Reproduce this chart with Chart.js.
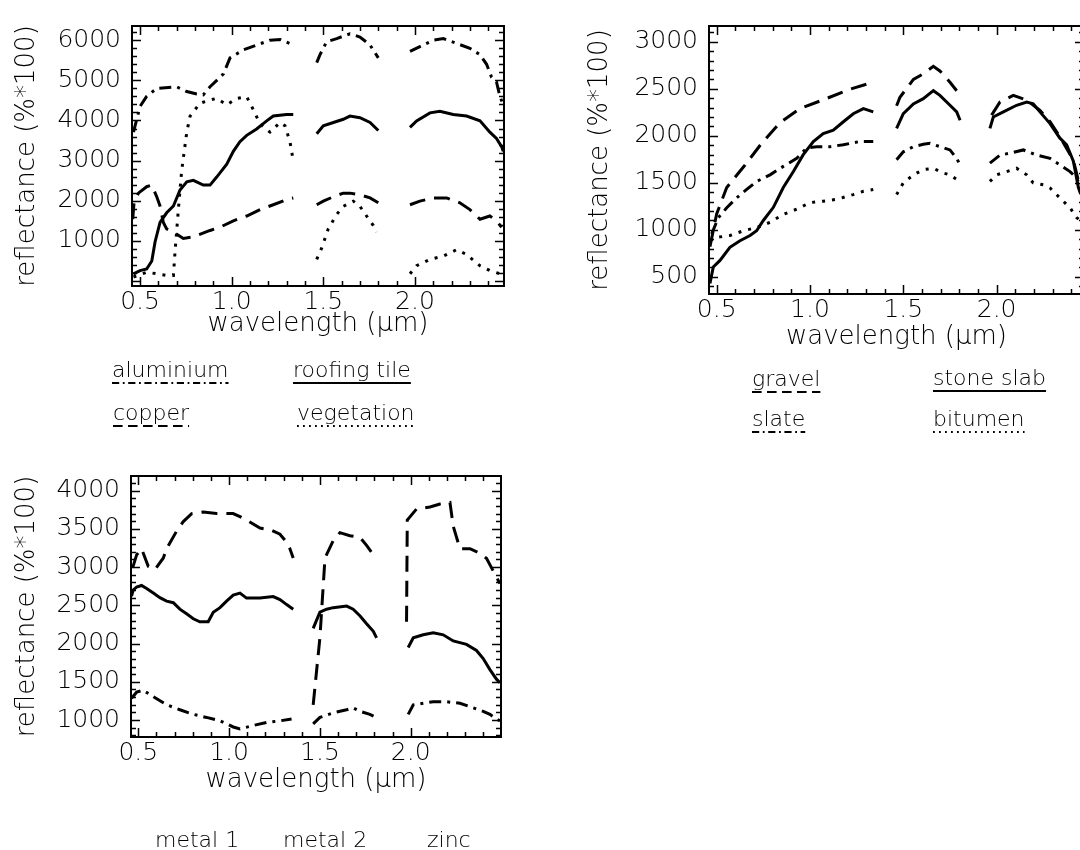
<!DOCTYPE html>
<html>
<head>
<meta charset="utf-8">
<script src="https://cdn.jsdelivr.net/npm/chart.js@4.4.1/dist/chart.umd.min.js"></script>
<style>
  html, body { margin: 0; padding: 0; background: #fff; overflow: hidden; }
  body { width: 1080px; height: 850px; position: relative; }
  .panel { position: absolute; }
</style>
</head>
<body>
<div class="panel" style="left:0;top:0;width:530px;height:450px"><canvas id="urban1"></canvas></div>
<div class="panel" style="left:575px;top:0;width:520px;height:450px"><canvas id="urban2"></canvas></div>
<div class="panel" style="left:0;top:450px;width:530px;height:400px"><canvas id="urban3"></canvas></div>
<script>
// ---- panel 1: aluminium, roofing tile, copper, vegetation ----
const alumWl = [0.464,0.5,0.536,0.591,0.70,0.755,0.809,0.845,0.882,0.955,0.991,1.064,1.136,1.209,1.264,1.336, 1.40,
  1.464,1.482,1.518,1.573,1.645,1.70,1.755,1.80, 1.88,
  1.973,2.027,2.10,2.155,2.227,2.30,2.355,2.391,2.418,2.445,2.464,2.478];
const alumRef = [3710,4350,4600,4800,4840,4720,4660,4640,4840,5160,5560,5760,5880,6000,6020,5880, null,
  5440,5640,5960,6040,6160,6080,5880,5560, null,
  5720,5840,6000,6040,5920,5800,5640,5400,5080,4960,4600,4430];

const roofWl = [0.464,0.5,0.536,0.564,0.582,0.609,0.645,0.682,0.718,0.755,0.791,0.845,0.882,0.918,0.973,1.009,1.045,1.082,1.136,1.191,1.227,1.30,1.336, 1.40,
  1.464,1.50,1.555,1.609,1.645,1.70,1.755,1.80, 1.88,
  1.973,2.009,2.082,2.136,2.209,2.282,2.355,2.409,2.445,2.473,2.482];
const roofRef = [180,260,300,500,980,1460,1700,1870,2270,2470,2510,2390,2390,2590,2910,3230,3470,3630,3790,3990,4110,4150,4150, null,
  3670,3870,3950,4030,4110,4070,3950,3750, null,
  3830,3990,4190,4230,4150,4110,3990,3710,3550,3350,3230];

const copperWl = [0.46,0.467,0.491,0.536,0.564,0.591,0.609,0.627,0.645,0.682,0.736,0.791,0.882,0.936,1.009,1.082,1.155,1.227,1.30,1.336, 1.40,
  1.464,1.50,1.555,1.609,1.645,1.70,1.755,1.80, 1.88,
  1.973,2.027,2.10,2.173,2.245,2.30,2.355,2.409,2.445,2.473];
const copperRef = [1540,1950,2190,2350,2390,2100,1870,1460,1300,1220,1060,1100,1260,1340,1500,1620,1780,1900,2030,2070, null,
  1900,1990,2100,2190,2190,2150,2070,1950, null,
  1900,1990,2070,2070,1950,1780,1540,1620,1500,1340];

const vegWl = [0.464,0.536,0.591,0.645,0.682,0.691,0.709,0.727,0.755,0.773,0.827,0.882,0.918,0.973,1.027,1.082,1.118,1.155,1.209,1.264,1.291,1.318,1.336, 1.40,
  1.464,1.491,1.527,1.573,1.609,1.664,1.70,1.736,1.773,1.791, 1.88,
  1.973,2.009,2.082,2.155,2.227,2.282,2.355,2.409,2.464];
const vegRef = [100,220,180,140,140,740,1780,2750,3710,4110,4430,4510,4550,4390,4550,4590,4270,3910,3710,3950,3870,3470,2990, null,
  540,820,1300,1660,1860,1990,1860,1620,1380,1220, null,
  180,380,540,620,780,660,380,260,180];

// ---- panel 2: gravel, stone slab, slate, bitumen ----
const gravelWl = [0.464,0.5,0.554,0.652,0.741,0.839,0.946,1.08,1.205,1.304,1.339, 1.40,
  1.464,1.482,1.554,1.607,1.661,1.696,1.75,1.786, 1.88,
  1.973,2.018,2.089,2.161,2.232,2.286,2.339,2.411,2.446];
const gravelRef = [820,1170,1450,1690,1920,2140,2290,2390,2490,2550,2520, null,
  2320,2410,2600,2660,2740,2690,2570,2480, null,
  2220,2360,2430,2380,2270,2150,1990,1740,1460];

const slabWl = [0.464,0.482,0.518,0.571,0.625,0.679,0.714,0.75,0.804,0.857,0.911,0.964,1.018,1.071,1.125,1.179,1.232,1.286,1.339, 1.40,
  1.464,1.50,1.554,1.607,1.661,1.696,1.75,1.786,1.804, 1.88,
  1.964,1.982,2.036,2.107,2.161,2.196,2.232,2.286,2.339,2.375,2.411,2.438,2.45];
const slabRef = [430,605,675,815,885,940,990,1100,1240,1450,1620,1800,1940,2025,2060,2150,2235,2290,2255, null,
  2080,2235,2340,2395,2480,2430,2325,2255,2165, null,
  2080,2200,2255,2325,2360,2340,2255,2130,1975,1905,1730,1450,1380];

const slateWl = [0.473,0.509,0.554,0.607,0.661,0.714,0.786,0.857,0.929,0.982,1.036,1.107,1.179,1.268,1.339, 1.40,
  1.464,1.50,1.554,1.607,1.643,1.696,1.75,1.786,1.804, 1.88,
  1.964,2.018,2.071,2.143,2.214,2.286,2.339,2.393,2.429,2.45];
const slateRef = [955,1130,1235,1340,1430,1515,1585,1675,1760,1870,1885,1885,1905,1940,1940, null,
  1745,1830,1885,1910,1920,1885,1850,1760,1690, null,
  1710,1795,1815,1850,1795,1760,1690,1620,1550,1450];

const bitumenWl = [0.464,0.5,0.571,0.643,0.714,0.786,0.857,0.929,1.0,1.071,1.143,1.232,1.286,1.339, 1.40,
  1.464,1.50,1.554,1.607,1.661,1.714,1.75,1.786, 1.88,
  1.964,2.0,2.054,2.107,2.161,2.196,2.25,2.286,2.339,2.393,2.429,2.45];
const bitumenRef = [885,920,940,990,1025,1080,1165,1220,1290,1305,1325,1375,1410,1430, null,
  1375,1500,1585,1640,1655,1605,1585,1535, null,
  1515,1585,1620,1655,1585,1500,1480,1445,1340,1235,1130,1095];

// ---- panel 3: metal 1, metal 2, zinc ----
const metal1Wl = [0.463,0.472,0.491,0.518,0.546,0.583,0.619,0.656,0.693,0.729,0.766,0.803,0.839,0.885,0.913,0.95,0.986,1.023,1.06,1.096,1.17,1.243,1.28,1.317,1.353, 1.41,
  1.463,1.50,1.537,1.573,1.647,1.683,1.72,1.757,1.794,1.812, 1.90,
  1.986,2.014,2.069,2.124,2.179,2.234,2.307,2.362,2.399,2.436,2.472,2.491];
const metal1Ref = [2620,2700,2740,2760,2720,2660,2600,2555,2535,2450,2390,2325,2285,2285,2410,2470,2555,2635,2660,2595,2595,2615,2575,2510,2450, null,
  2200,2410,2450,2470,2490,2450,2365,2260,2160,2075, null,
  1950,2075,2115,2140,2115,2035,1990,1910,1805,1660,1535,1490];

const metal2Wl = [0.469,0.491,0.518,0.555,0.592,0.638,0.656,0.711,0.748,0.794,0.858,0.931,1.022,1.06,1.096,1.17,1.225,1.28,1.317,1.335,1.353, 1.41,
  1.463,1.50,1.528,1.573,1.61,1.665,1.72,1.757,1.794,1.812, 1.90,
  1.977,1.981,2.032,2.106,2.161,2.216,2.234,2.271,2.326,2.381,2.417,2.454,2.491];
const metal2Ref = [2990,3160,3240,3010,2970,3120,3240,3470,3595,3700,3720,3700,3700,3660,3615,3510,3490,3430,3325,3240,3120, null,
  1200,2075,3120,3345,3450,3410,3390,3285,3160,3135, null,
  2285,3615,3760,3785,3825,3845,3535,3240,3240,3180,3115,2950,2785];

const zincWl = [0.463,0.491,0.528,0.583,0.656,0.729,0.803,0.876,0.95,1.023,1.06,1.133,1.206,1.28,1.344, 1.41,
  1.463,1.50,1.573,1.647,1.683,1.72,1.775,1.812, 1.90,
  1.986,2.014,2.069,2.124,2.197,2.271,2.344,2.399,2.436,2.472,2.491];
const zincRef = [1285,1365,1390,1305,1200,1135,1075,1035,990,910,885,930,970,990,1015, null,
  950,1035,1095,1135,1160,1115,1075,1035, null,
  1075,1200,1220,1240,1240,1220,1160,1115,1075,1015,990];

// tick labels
const xTicks = [0.5, 1.0, 1.5, 2.0];
const yTicks1 = [1000, 2000, 3000, 4000, 5000, 6000];
const yTicks2 = [500, 1000, 1500, 2000, 2500, 3000];
const yTicks3 = [1000, 1500, 2000, 2500, 3000, 3500, 4000];

const SOLID = [], DASHED = [16, 9], DOTTED = [3, 7], DASHDOT = [12, 6, 3, 6];
const FONT = 'DejaVu Sans';
const WEIGHT = 200;

// IDL-style box with inward major/minor ticks on all four sides
const idlFrame = {
    id: 'idlFrame',
    afterDatasetsDraw(chart, args, opts) {
        const {ctx, chartArea: a, scales: {x, y}} = chart;
        ctx.save();
        ctx.strokeStyle = '#000';
        ctx.lineWidth = 2;
        ctx.strokeRect(a.left, a.top, a.right - a.left, a.bottom - a.top);
        ctx.lineWidth = 1.5;
        ctx.beginPath();
        const xs = Math.ceil(x.min / opts.xMinor - 1e-6);
        for (let k = xs; k * opts.xMinor <= x.max + 1e-9; k++) {
            const v = k * opts.xMinor;
            const px = Math.round(x.getPixelForValue(v)) + 0.5;
            const len = xTicks.some(t => Math.abs(t - v) < 1e-6) ? 9 : 5;
            ctx.moveTo(px, a.bottom); ctx.lineTo(px, a.bottom - len);
            ctx.moveTo(px, a.top); ctx.lineTo(px, a.top + len);
        }
        const ys = Math.ceil(y.min / opts.yMinor);
        for (let k = ys; k * opts.yMinor <= y.max; k++) {
            const v = k * opts.yMinor;
            const py = Math.round(y.getPixelForValue(v)) + 0.5;
            const len = v % opts.yMajor === 0 ? 9 : 5;
            ctx.moveTo(a.left, py); ctx.lineTo(a.left + len, py);
            ctx.moveTo(a.right, py); ctx.lineTo(a.right - len, py);
        }
        ctx.stroke();
        ctx.restore();
    }
};

// material names underlined with the line style of their curve
const underLegend = {
    id: 'underLegend',
    afterDraw(chart, args, opts) {
        const ctx = chart.ctx;
        ctx.save();
        ctx.font = WEIGHT + ' 22px "' + FONT + '"';
        ctx.fillStyle = '#000';
        ctx.strokeStyle = '#000';
        ctx.textBaseline = 'alphabetic';
        chart.data.datasets.forEach((ds, i) => {
            const p = opts.positions[i];
            ctx.fillText(ds.label, p[0], p[1]);
            const w = ctx.measureText(ds.label).width;
            ctx.setLineDash(ds.borderDash.length ? ds.borderDash.map(d => d * 0.6) : []);
            ctx.lineWidth = 2;
            ctx.beginPath();
            ctx.moveTo(p[0], p[1] + 6);
            ctx.lineTo(p[0] + w, p[1] + 6);
            ctx.stroke();
        });
        ctx.restore();
    }
};

function toPoints(wl, ref) {
    return wl.map((w, i) => ({x: w, y: ref[i]}));
}

function makePanel(id, p) {
    new Chart(id, {
        type: 'line',
        data: {
            datasets: p.series.map(s => ({
                label: s.label,
                data: toPoints(s.wl, s.ref),
                borderColor: '#000',
                borderWidth: 3,
                borderDash: s.dash,
                pointRadius: 0,
                tension: 0,
                spanGaps: false,
                fill: false
            }))
        },
        options: {
            responsive: true,
            maintainAspectRatio: false,
            animation: false,
            layout: {padding: p.padding},
            plugins: {
                legend: {display: false},
                tooltip: {enabled: false},
                idlFrame: {xMinor: 0.1, yMinor: p.yMinor, yMajor: p.yMajor},
                underLegend: {positions: p.legend}
            },
            scales: {
                x: {
                    type: 'linear', min: p.xMin, max: p.xMax,
                    grid: {display: false, drawTicks: false},
                    border: {display: false},
                    ticks: {
                        color: '#000', padding: 1, maxRotation: 0, autoSkip: false,
                        font: {family: FONT, size: 25, weight: WEIGHT, lineHeight: 1.2},
                        callback: v => v.toFixed(1)
                    },
                    afterBuildTicks: s => { s.ticks = xTicks.map(v => ({value: v})); },
                    afterFit: s => { s.height = p.xHeight; },
                    title: {
                        display: true, text: 'wavelength (μm)', color: '#000',
                        font: {family: FONT, size: 26, weight: WEIGHT, lineHeight: 1.2},
                        padding: {top: 0, bottom: 0}
                    }
                },
                y: {
                    type: 'linear', min: p.yMin, max: p.yMax,
                    grid: {display: false, drawTicks: false},
                    border: {display: false},
                    ticks: {
                        color: '#000', padding: 11, autoSkip: false,
                        font: {family: FONT, size: 25, weight: WEIGHT, lineHeight: 1.2},
                        callback: v => String(v)
                    },
                    afterBuildTicks: s => { s.ticks = p.yTicks.map(v => ({value: v})); },
                    afterFit: s => { s.width = p.yWidth; },
                    title: {
                        display: true, text: 'reflectance (%*100)', color: '#000',
                        font: {family: FONT, size: 26, weight: WEIGHT, lineHeight: 1.2},
                        padding: {top: p.yTitlePad, bottom: 0}
                    }
                }
            }
        },
        plugins: [idlFrame, underLegend]
    });
}

makePanel('urban1', {
    series: [
        {label: 'aluminium', wl: alumWl, ref: alumRef, dash: DASHDOT},
        {label: 'roofing tile', wl: roofWl, ref: roofRef, dash: SOLID},
        {label: 'copper', wl: copperWl, ref: copperRef, dash: DASHED},
        {label: 'vegetation', wl: vegWl, ref: vegRef, dash: DOTTED}
    ],
    legend: [[112, 377], [293, 377], [113, 420], [297, 420]],
    xMin: 0.456, xMax: 2.486, yMin: -124, yMax: 6354,
    yTicks: yTicks1, yMinor: 200, yMajor: 1000,
    padding: {left: 0, top: 17, right: 26, bottom: 110},
    yWidth: 132, xHeight: 54, yTitlePad: 12
});

makePanel('urban2', {
    series: [
        {label: 'gravel', wl: gravelWl, ref: gravelRef, dash: DASHED},
        {label: 'stone slab', wl: slabWl, ref: slabRef, dash: SOLID},
        {label: 'slate', wl: slateWl, ref: slateRef, dash: DASHDOT},
        {label: 'bitumen', wl: bitumenWl, ref: bitumenRef, dash: DOTTED}
    ],
    legend: [[177, 386], [358, 385], [177, 426], [358, 426]],
    xMin: 0.459, xMax: 2.468, yMin: 318, yMax: 3168,
    yTicks: yTicks2, yMinor: 100, yMajor: 500,
    padding: {left: 0, top: 23, right: 11, bottom: 97},
    yWidth: 134, xHeight: 59, yTitlePad: 10
});

makePanel('urban3', {
    series: [
        {label: 'metal 1', wl: metal1Wl, ref: metal1Ref, dash: SOLID},
        {label: 'metal 2', wl: metal2Wl, ref: metal2Ref, dash: DASHED},
        {label: 'zinc', wl: zincWl, ref: zincRef, dash: DASHDOT}
    ],
    legend: [[155, 397], [283, 397], [427, 397]],
    xMin: 0.46, xMax: 2.497, yMin: 779, yMax: 4191,
    yTicks: yTicks3, yMinor: 100, yMajor: 500,
    padding: {left: 0, top: 14, right: 29, bottom: 54},
    yWidth: 131, xHeight: 59, yTitlePad: 12
});
</script>
</body>
</html>
